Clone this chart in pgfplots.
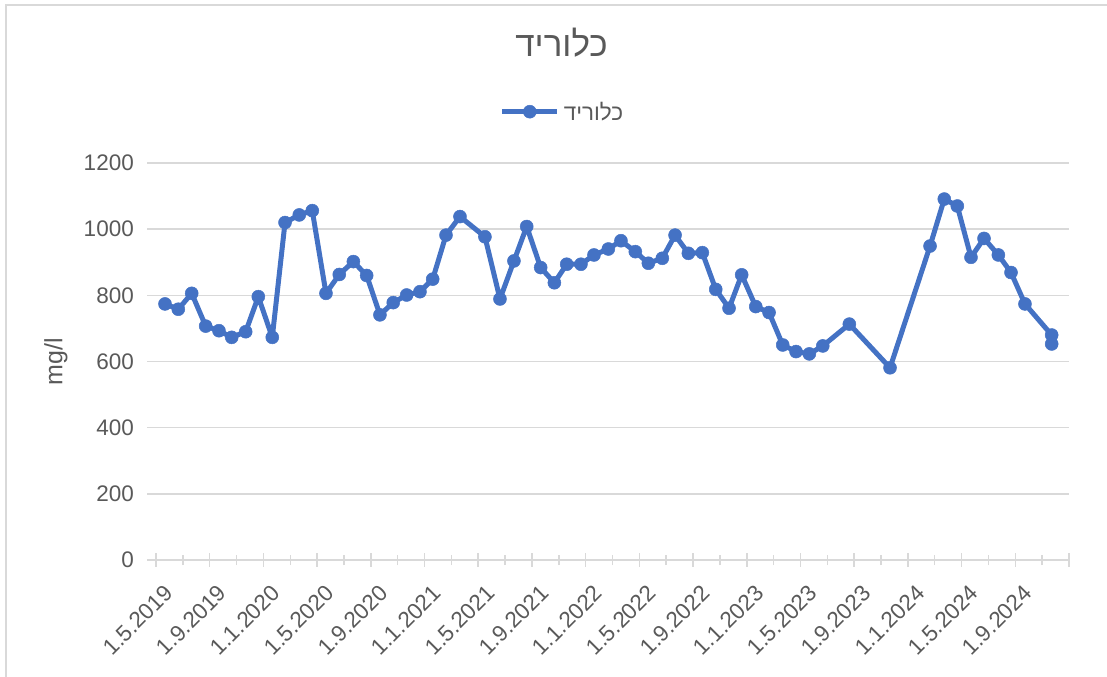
\documentclass[border=0pt]{standalone}
\usepackage{fontspec}
\setmainfont{Liberation Sans}
\newfontfamily\hebfont[Script=Hebrew]{Liberation Sans}
\TeXXeTstate=1
\usepackage{pgfplots}
\pgfplotsset{compat=1.18}
\definecolor{exblue}{HTML}{4472C4}
\definecolor{gridgray}{HTML}{D9D9D9}
\definecolor{textgray}{HTML}{595959}

\pgfplotstableread{
x v
0.67 774
1.66 758
2.66 806
3.70 707
4.69 693
5.64 673
6.68 690
7.62 796
8.66 673
9.61 1020
10.67 1043
11.64 1056
12.66 806
13.65 863
14.70 902
15.69 860
16.68 741
17.67 778
18.67 801
19.66 811
20.61 849
21.60 982
22.64 1038
24.50 977
25.62 789
26.66 904
27.61 1008
28.65 884
29.67 838
30.59 894
31.65 894
32.62 922
33.69 940
34.63 965
35.70 932
36.67 897
37.71 912
38.66 982
39.65 927
40.69 929
41.69 818
42.68 761
43.62 862
44.67 766
45.66 748
46.68 650
47.67 630
48.66 623
49.66 647
51.64 713
54.67 581
57.65 949
58.71 1091
59.68 1070
60.70 915
61.67 972
62.74 922
63.68 869
64.72 774
66.71 680
66.71 653
}\chloride

\begin{document}
\begin{tikzpicture}
\path[use as bounding box] (0,0) rectangle (1107bp,677bp);
\draw[gridgray, line width=2bp] (6bp,0) -- (6bp,672bp) -- (1107bp,672bp);
\begin{axis}[
  at={(147bp,117bp)}, anchor=south west,
  width=922bp, height=397bp, scale only axis,
  xmin=-0.67, xmax=68, ymin=0, ymax=1200,
  clip=false,
  axis line style={draw=none},
  xtick={0,4,...,68},
  minor xtick={2,6,...,66},
  xticklabels={1.5.2019,1.9.2019,1.1.2020,1.5.2020,1.9.2020,1.1.2021,1.5.2021,1.9.2021,1.1.2022,1.5.2022,1.9.2022,1.1.2023,1.5.2023,1.9.2023,1.1.2024,1.5.2024,1.9.2024,{}},
  ytick={0,200,...,1200},
  xtick pos=bottom,
  ytick style={draw=none},
  xtick align=center,
  major tick length=13.4bp,
  minor tick length=10bp,
  every tick/.style={color=gridgray, line width=1.5bp},
  ymajorgrids,
  major grid style={color=gridgray, line width=1.5bp},
  /pgf/number format/assume math mode=true,
  /pgf/number format/1000 sep={},
  tick label style={color=textgray, font=\fontsize{22.5bp}{27bp}\selectfont},
  yticklabel style={anchor=east, inner sep=0pt, xshift=-13bp},
  xticklabel style={inner sep=0pt, anchor=north east, xshift=7bp, yshift=-16.5bp, rotate=45},
  ylabel={mg/l},
  ylabel style={at={(axis description cs:0,0.5)}, anchor=center, yshift=91bp, color=textgray, font=\fontsize{25bp}{30bp}\selectfont},
  title={\hebfont\beginR כלוריד\endR},
  title style={at={(axis description cs:0.4496,1.2544)}, anchor=base, color=textgray, font=\fontsize{35bp}{42bp}\selectfont, inner sep=0pt},
  legend style={at={(axis description cs:0.4496,1.1292)}, anchor=center, draw=none, fill=none, inner sep=0pt,
     nodes={inner sep=0pt, text=textgray}, font=\fontsize{22.5bp}{27bp}\selectfont,
     /tikz/every odd column/.append style={column sep=4bp}},
  legend image code/.code={\draw[mark repeat=2, mark phase=2, #1] plot coordinates {(0bp,0bp) (27.5bp,0bp) (55bp,0bp)};},
]
\draw[gridgray, line width=1.5bp] (axis cs:0,0) -- (axis cs:68,0);
\addplot[color=exblue, line width=5bp, line join=round, mark=*, mark size=6.5bp,
  mark options={solid, fill=exblue, draw=exblue, line width=0.5bp}] table[x=x, y=v] {\chloride};
\addlegendentry{\hebfont\beginR כלוריד\endR}
\end{axis}
\end{tikzpicture}
\end{document}
